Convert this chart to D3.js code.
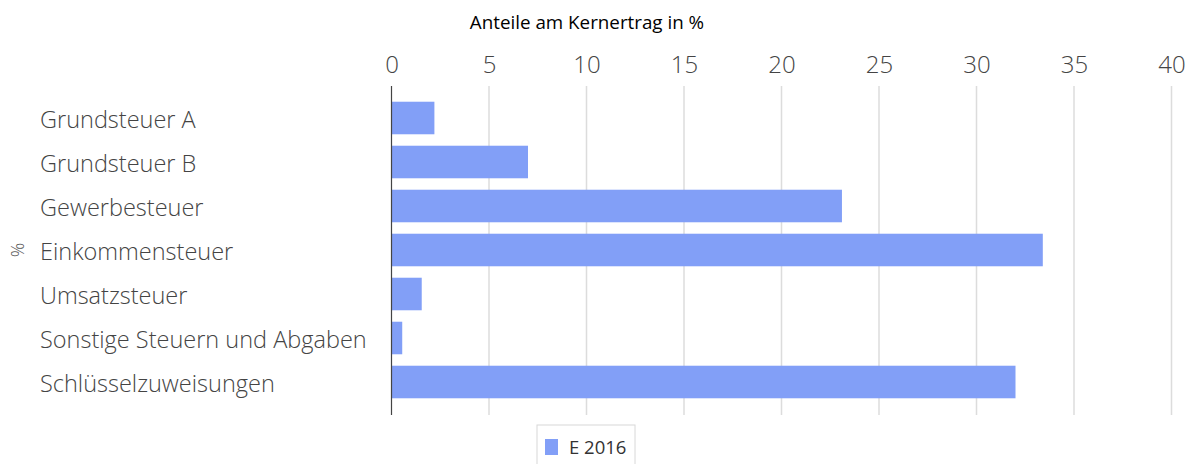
<!DOCTYPE html>
<html>
<head>
<meta charset="utf-8">
<script src="https://cdn.jsdelivr.net/npm/d3@7"></script>
<style>
  body { margin: 0; background: #fff; }
  svg { display: block; }
</style>
</head>
<body>
<svg class="chart-svg" width="1191" height="464"></svg>
<script>
// Anteile am Kernertrag (E 2016)
const categories = [
  'Grundsteuer A',
  'Grundsteuer B',
  'Gewerbesteuer',
  'Einkommensteuer',
  'Umsatzsteuer',
  'Sonstige Steuern und Abgaben',
  'Schlüsselzuweisungen'
]
const values = [2.2, 7.0, 23.1, 33.4, 1.55, 0.55, 32.0]
const xTicks = [0, 5, 10, 15, 20, 25, 30, 35, 40]
const seriesName = 'E 2016'

const barColor = '#829ff7'
const svg = d3.select('.chart-svg')

const xScale = d3.scaleLinear().domain([0, 40]).range([391.5, 1171.5])
const yScale = d3.scaleBand().domain(categories).range([96, 404]).paddingInner(0.26).paddingOuter(0.13)

// vertical grid lines
svg.append('g')
  .selectAll('line')
  .data(xTicks.slice(1))
  .join('line')
  .attr('x1', d => xScale(d))
  .attr('x2', d => xScale(d))
  .attr('y1', 86)
  .attr('y2', 415)
  .attr('stroke', '#dcdcdc')
  .attr('stroke-width', 1.5)

// bars
svg.append('g')
  .selectAll('rect')
  .data(values)
  .join('rect')
  .attr('x', xScale(0))
  .attr('y', (d, i) => yScale(categories[i]))
  .attr('width', d => xScale(d) - xScale(0))
  .attr('height', yScale.bandwidth())
  .attr('fill', barColor)

// zero line
svg.append('line')
  .attr('x1', xScale(0))
  .attr('x2', xScale(0))
  .attr('y1', 86)
  .attr('y2', 415)
  .attr('stroke', '#444')
  .attr('stroke-width', 1.2)

// top axis tick labels
const xAxis = d3.axisTop(xScale).tickValues(xTicks).tickSize(0).tickPadding(0)
svg.append('g')
  .attr('class', 'x axis')
  .attr('transform', 'translate(0,73)')
  .call(xAxis)
  .call(g => g.select('.domain').remove())
  .selectAll('text')
  .attr('dy', 0)
  .style('font-family', '"Open Sans", sans-serif')
  .style('font-weight', 300)
  .style('font-size', '24px')
  .attr('fill', '#444')

// category labels
svg.append('g')
  .attr('class', 'y axis')
  .selectAll('text')
  .data(categories)
  .join('text')
  .attr('x', 40)
  .attr('y', d => yScale(d) + yScale.bandwidth() / 2 + 2)
  .attr('dy', '.35em')
  .style('font-family', '"Open Sans", sans-serif')
  .style('font-weight', 300)
  .style('font-size', '23.5px')
  .attr('fill', '#444')
  .text(d => d)

// axis titles
svg.append('text')
  .attr('x', 587)
  .attr('y', 29)
  .attr('text-anchor', 'middle')
  .style('font-family', '"Open Sans", sans-serif')
  .style('font-size', '18.8px')
  .attr('fill', '#000')
  .text('Anteile am Kernertrag in %')

svg.append('text')
  .attr('transform', 'translate(24,250) rotate(-90)')
  .attr('text-anchor', 'middle')
  .style('font-family', '"Open Sans", sans-serif')
  .style('font-weight', 300)
  .style('font-size', '18px')
  .attr('fill', '#555')
  .text('%')

// legend
const legend = svg.append('g').attr('transform', 'translate(537,425)')
legend.append('rect')
  .attr('width', 98)
  .attr('height', 45)
  .attr('fill', '#fff')
  .attr('stroke', '#d8d8d8')
legend.append('rect')
  .attr('x', 8)
  .attr('y', 14)
  .attr('width', 13)
  .attr('height', 16)
  .attr('fill', barColor)
legend.append('text')
  .attr('x', 32)
  .attr('y', 29)
  .style('font-family', '"Open Sans", sans-serif')
  .style('font-size', '18.5px')
  .attr('fill', '#333')
  .text(seriesName)
</script>
</body>
</html>
